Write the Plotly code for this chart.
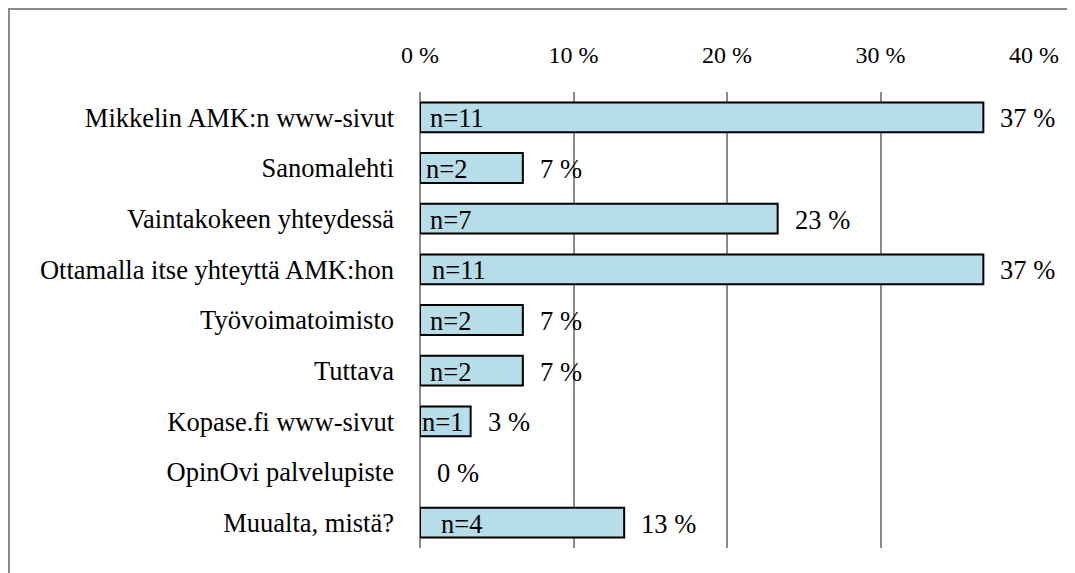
import plotly.graph_objects as go

categories = [
    "Mikkelin AMK:n www-sivut",
    "Sanomalehti",
    "Vaintakokeen yhteydessä",
    "Ottamalla itse yhteyttä AMK:hon",
    "Työvoimatoimisto",
    "Tuttava",
    "Kopase.fi www-sivut",
    "OpinOvi palvelupiste",
    "Muualta, mistä?",
]
percent_values = [36.7, 6.7, 23.3, 36.7, 6.7, 6.7, 3.3, 0.0, 13.3]
count_labels = ["n=11", "n=2", "n=7", "n=11", "n=2", "n=2", "n=1", "", "n=4"]
percent_labels = ["37 %", "7 %", "23 %", "37 %", "7 %", "7 %", "3 %", "0 %", "13 %"]
tick_values = [0, 10, 20, 30, 40]
tick_labels = ["0 %", "10 %", "20 %", "30 %", "40 %"]

# styling: horizontal nudges of the in-bar labels (pixels), outline widths
count_label_shift = [8, 4, 8, 10, 8, 8, 0, 0, 19]
outline_widths = [2, 2, 2, 2, 2, 2, 2, 0, 2]

FONT = "Liberation Serif, Times New Roman, serif"
FS = 26.5

# page body has an 8px margin: figure is placed at (8, 8)
W, H = 1067, 565
L, R, T, B = 412, 41, 84, 25
pw = W - L - R
ph = H - T - B

fig = go.Figure()
fig.add_trace(go.Bar(
    y=categories,
    x=percent_values,
    orientation="h",
    marker=dict(color="#B7DDE8", line=dict(color="#000000", width=outline_widths)),
    width=0.59,
    hoverinfo="skip",
))

annotations = []
for cat, val, nl, pl, sh in zip(categories, percent_values, count_labels, percent_labels, count_label_shift):
    if nl:
        annotations.append(dict(
            x=0, y=cat, xref="x", yref="y", text=nl, showarrow=False,
            xanchor="left", yanchor="middle", xshift=sh, yshift=-1,
            font=dict(family=FONT, size=FS, color="#000000"),
        ))
    annotations.append(dict(
        x=val, y=cat, xref="x", yref="y", text=pl, showarrow=False,
        xanchor="left", yanchor="middle", xshift=15, yshift=-1,
        font=dict(family=FONT, size=FS, color="#000000"),
    ))

fig.update_layout(
    width=W, height=H,
    margin=dict(l=L, r=R, t=T, b=B),
    paper_bgcolor="white",
    plot_bgcolor="white",
    showlegend=False,
    font=dict(family=FONT, size=FS, color="#000000"),
    xaxis=dict(
        side="top",
        range=[0, 40],
        tickvals=tick_values,
        ticktext=tick_labels,
        showgrid=True,
        gridcolor="#8a8a8a",
        gridwidth=1.5,
        zeroline=True,
        zerolinecolor="#8a8a8a",
        zerolinewidth=1.5,
        showline=False,
        ticks="",
        ticklabelstandoff=23,
        tickfont=dict(family=FONT, size=24, color="#000000"),
        fixedrange=True,
    ),
    yaxis=dict(
        autorange="reversed",
        showgrid=False,
        zeroline=False,
        showline=False,
        ticks="",
        ticklabelstandoff=25,
        tickfont=dict(family=FONT, size=FS, color="#000000"),
        fixedrange=True,
    ),
    annotations=annotations,
    shapes=[dict(
        type="rect", xref="paper", yref="paper",
        x0=(1 - L) / pw, x1=(W + 20 - L) / pw,
        y0=-(B + 20) / ph, y1=(H - 1 - B) / ph,
        line=dict(color="#8a8a8a", width=2),
        fillcolor="rgba(0,0,0,0)",
        layer="below",
    )],
)

fig.write_html("out.html")
